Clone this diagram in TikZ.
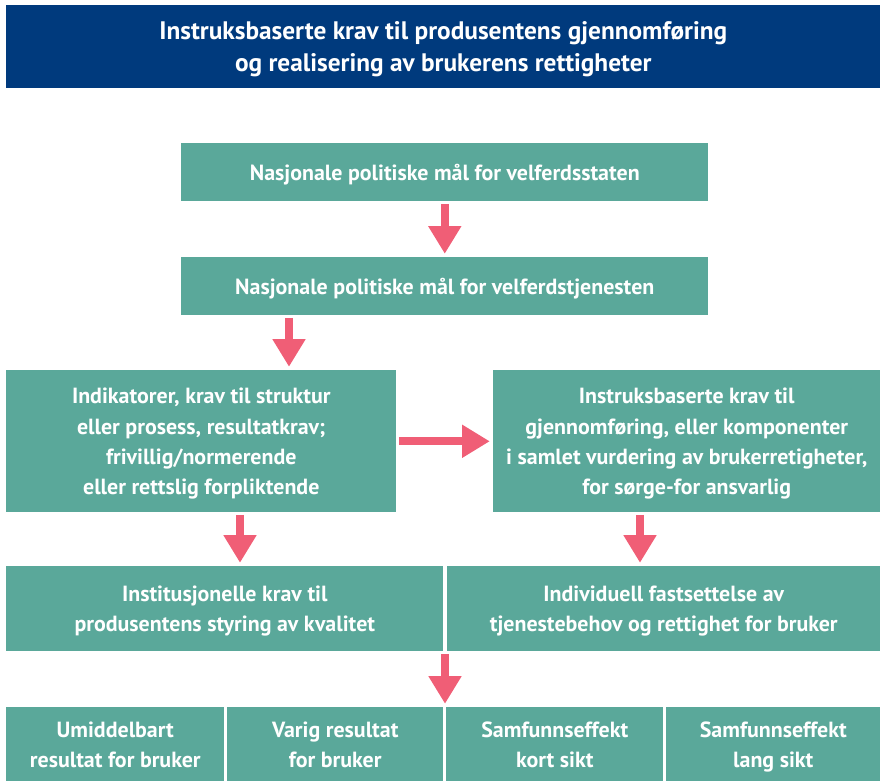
\documentclass[tikz,border=0pt]{standalone}
\usepackage{fontspec}
\setmainfont{PT Sans}
\usetikzlibrary{arrows.meta}
\definecolor{navyhead}{RGB}{0,58,125}
\definecolor{tealbox}{RGB}{90,168,154}
\definecolor{pinkarrow}{RGB}{240,94,118}
\begin{document}
\begin{tikzpicture}[x=0.025cm,y=-0.025cm,
		box/.style={fill=tealbox,text=white,anchor=north west,inner sep=0pt,align=center,font=\fontsize{15.6}{21.4}\selectfont\bfseries,text depth=-1.5pt},
		onebox/.style={box,text depth=0pt,minimum width=527*0.025cm,minimum height=58*0.025cm},
		endbox/.style={box,text depth=-5.5pt,minimum height=74*0.025cm},
		flow/.style={draw=pinkarrow,line width=0.2cm,shorten <=0.06cm,shorten >=0.08cm,-{Triangle[width=0.78cm,length=0.69cm]}}]
		\useasboundingbox (0,0) rectangle (880,781);
		%%%%%%%%%%%%%%% T I T L E %%%%%%%%%%%%%%%%
		\node[box,fill=navyhead,minimum width=874*0.025cm,minimum height=83*0.025cm,font=\fontsize{18}{22.8}\selectfont\bfseries,text depth=-3pt] (title) at (6,5) {Instruksbaserte krav til produsentens gjennomføring\\og realisering av brukerens rettigheter};
		%%%%%%%%%%%%%%% B O X E S %%%%%%%%%%%%%%%%
		%level 0
		\node[onebox] (stat) at (181,143) {Nasjonale politiske mål for velferdsstaten};
		%level 1
		\node[onebox] (tjen) at (181,257) {Nasjonale politiske mål for velferdstjenesten};
		%level 2
		\node[box,minimum width=390*0.025cm,minimum height=142*0.025cm] (indik) at (6,370) {Indikatorer, krav til struktur\\eller prosess, resultatkrav;\\frivillig/normerende\\eller rettslig forpliktende};
		\node[box,minimum width=387*0.025cm,minimum height=142*0.025cm] (instr) at (493,370) {Instruksbaserte krav til\\gjennomføring, eller komponenter\\i samlet vurdering av brukerretigheter,\\for sørge-for ansvarlig};
		%level 3
		\node[box,minimum width=437*0.025cm,minimum height=85*0.025cm] (inst) at (6,566) {Institusjonelle krav til\\produsentens styring av kvalitet};
		\node[box,minimum width=433*0.025cm,minimum height=85*0.025cm] (indiv) at (447,566) {Individuell fastsettelse av\\tjenestebehov og rettighet for bruker};
		%level 4
		\node[endbox,minimum width=218*0.025cm] (umid) at (6,707) {Umiddelbart\\resultat for bruker};
		\node[endbox,minimum width=216*0.025cm] (varig) at (227,707) {Varig resultat\\for bruker};
		\node[endbox,minimum width=217*0.025cm] (kort) at (446,707) {Samfunnseffekt\\kort sikt};
		\node[endbox,minimum width=214*0.025cm] (lang) at (666,707) {Samfunnseffekt\\lang sikt};
		%%%%%%%%%%%%%%% A R R O W S %%%%%%%%%%%%%%%%
		\coordinate (xa) at (289,0);
		\coordinate (xb) at (240,0);
		\coordinate (xc) at (640,0);
		\coordinate (xd) at (445,0);
		\draw[flow] (stat.south) -- (tjen.north);
		\draw[flow] (tjen.south -| xa) -- (indik.north -| xa);
		\draw[flow] (indik.east) -- (instr.west);
		\draw[flow] (indik.south -| xb) -- (inst.north -| xb);
		\draw[flow] (instr.south -| xc) -- (indiv.north -| xc);
		\draw[flow] (inst.south -| xd) -- (kort.north -| xd);
	\end{tikzpicture}
\end{document}
